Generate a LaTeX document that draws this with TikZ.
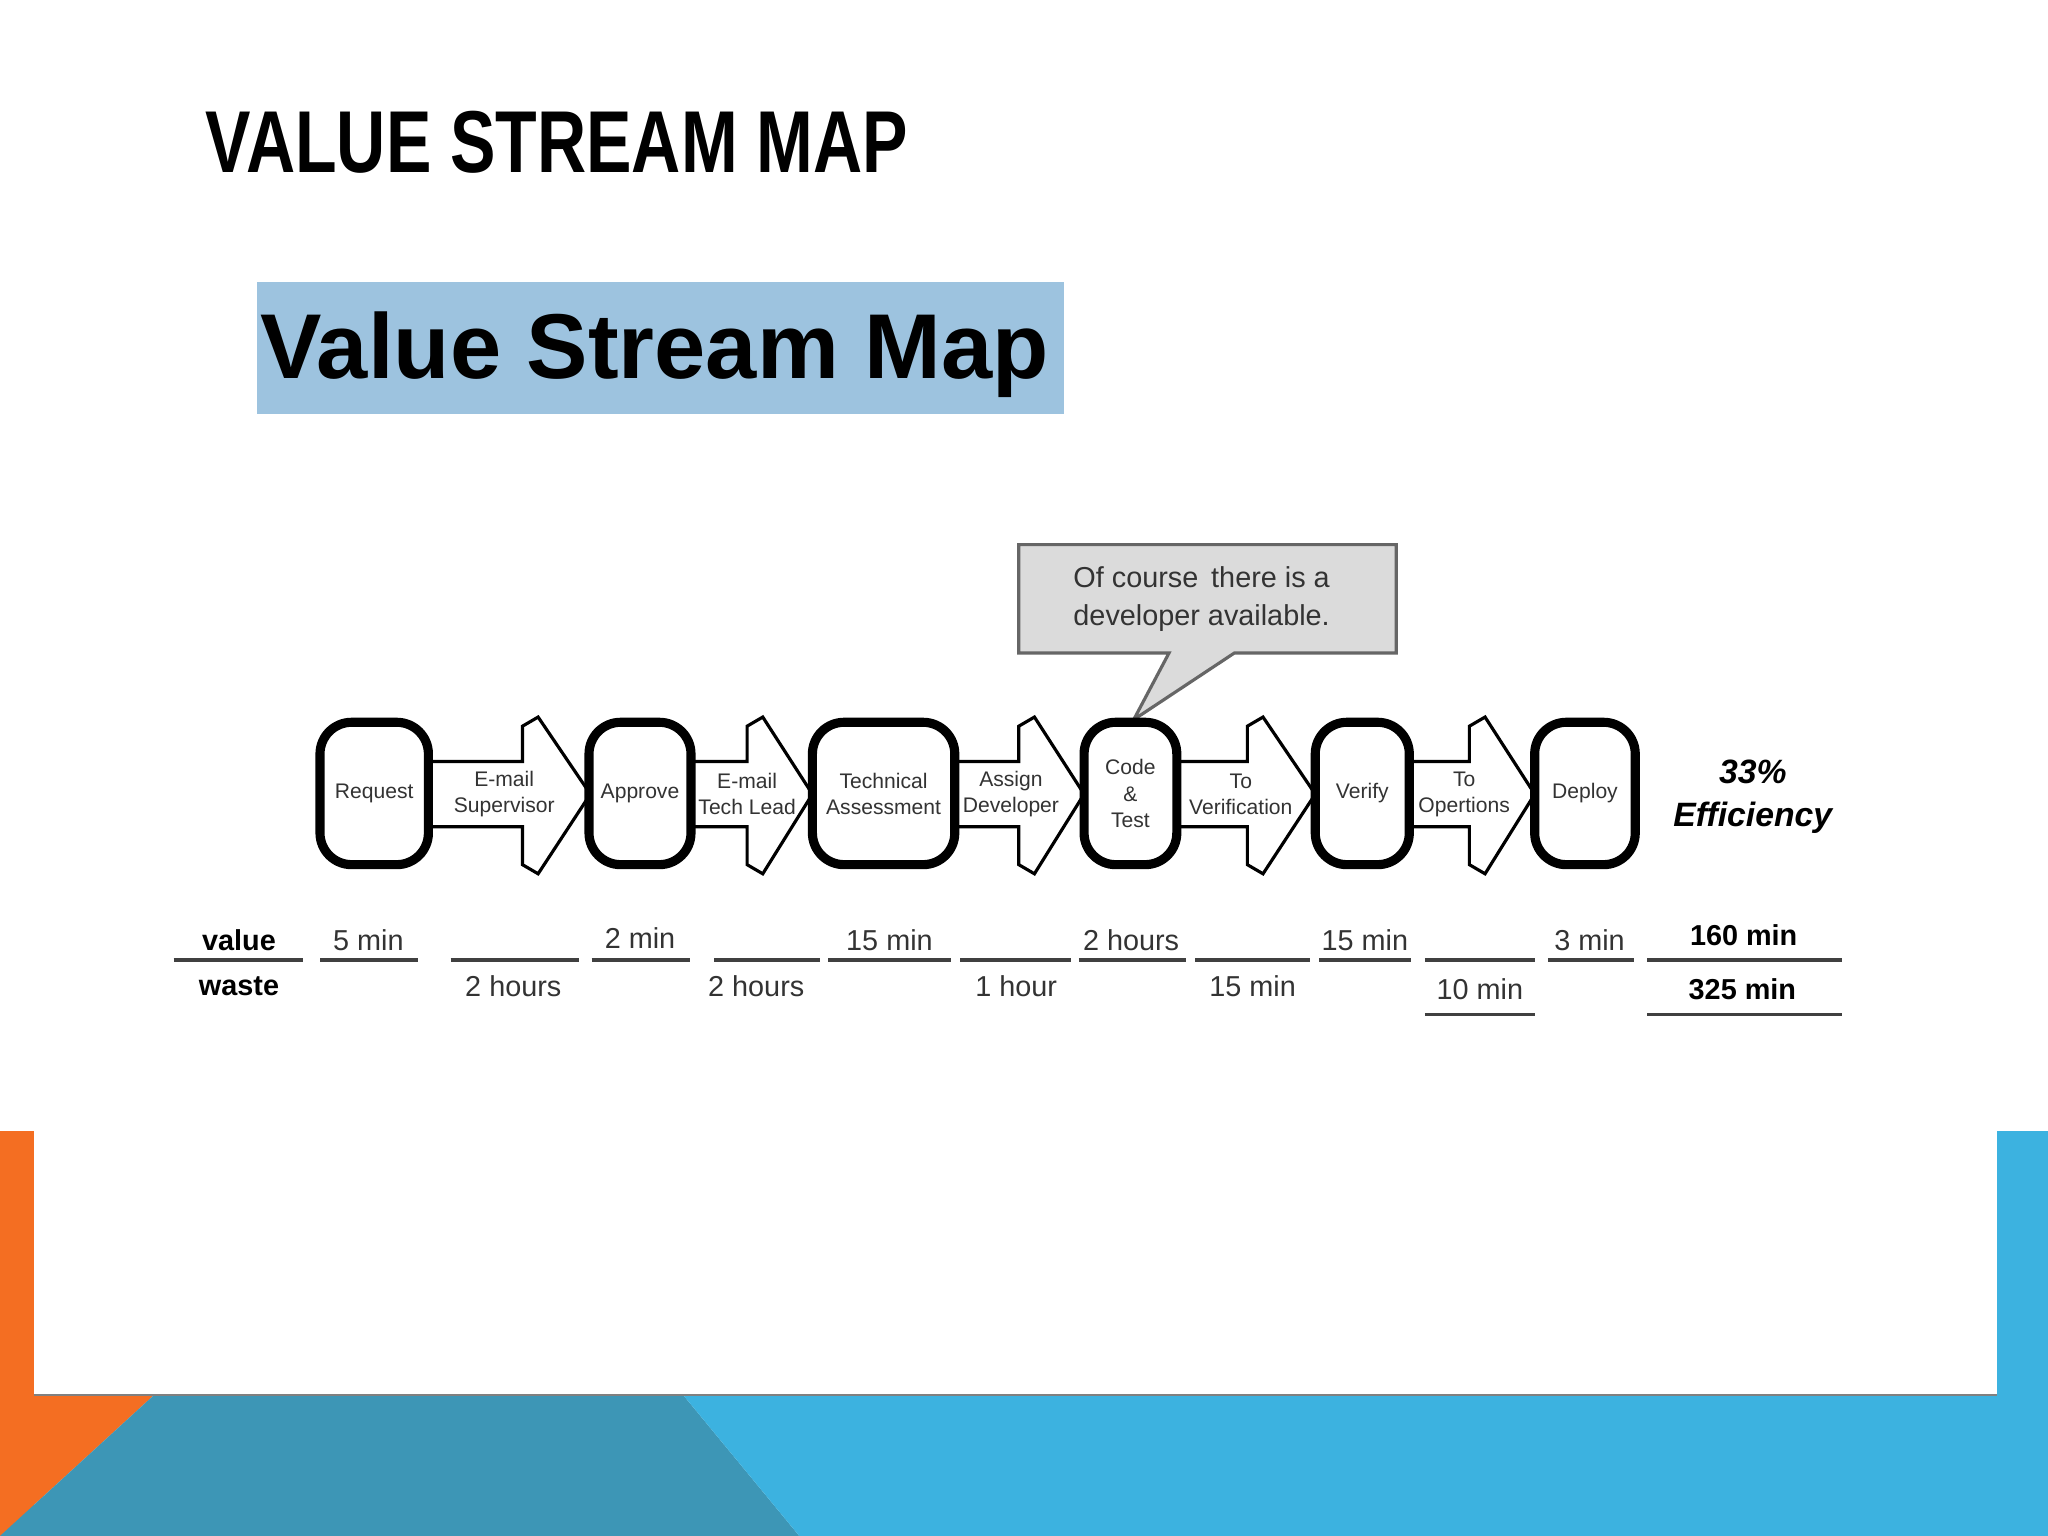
\documentclass[tikz,border=0pt]{standalone}
\usepackage{fontspec}
\setmainfont{Liberation Sans}
\definecolor{vsorange}{HTML}{F46E22}
\definecolor{vsteal}{HTML}{3D96B6}
\definecolor{vsblue}{HTML}{3CB2E0}
\definecolor{vsbox}{HTML}{9DC3DF}
\begin{document}
\begin{tikzpicture}[x=0.01306cm,y=-0.01306cm,
  proc/.style={draw,line width=2.6pt,rounded corners=9pt,fill=white},
  arr/.style={draw,line width=0.9pt,fill=white,line join=miter},
  small/.style={font=\fontsize{6.0}{7.4}\selectfont,align=center,text=black!80},
  num/.style={font=\fontsize{8.2}{9.5}\selectfont,text=black!80},
  bnum/.style={font=\bfseries\fontsize{8.2}{9.5}\selectfont},
  rule/.style={draw=black!75,line width=0.9pt}]
\useasboundingbox (0,0) rectangle (1568,1176);
\fill[white] (0,0) rectangle (1568,1176);
% bottom decoration
\fill[vsorange] (0,866) rectangle (26,1176);
\fill[vsorange] (0,1068) -- (118,1068) -- (0,1176) -- cycle;
\fill[vsteal] (118,1068) -- (523,1068) -- (612,1176) -- (0,1176) -- cycle;
\fill[vsblue] (523,1068) -- (1568,1068) -- (1568,1176) -- (612,1176) -- cycle;
\fill[vsblue] (1529,866) rectangle (1568,1068);
\draw[black!50,line width=0.8pt] (26,1068) -- (1529,1068);
% titles
\node[anchor=base west,inner sep=0] (title) at (157,132) {\scalebox{0.775}[1]{\bfseries\fontsize{25}{30}\selectfont VALUE STREAM MAP}};
\fill[vsbox] (197,216) rectangle (815,317);
\node[anchor=base west,inner sep=0] (sub) at (199,290) {\bfseries\fontsize{26.2}{30}\selectfont Value Stream Map};
% callout
\draw[black!60,fill=black!14,line width=0.9pt] (780,417) -- (1069,417) -- (1069,500) -- (945,500) -- (868,551) -- (895,500) -- (780,500) -- cycle;
\node[font=\fontsize{8.2}{10.8}\selectfont,align=center,text=black!80] (note) at (920,459) {Of course\, there is a\\developer available.};
% arrows
\foreach \a/\b/\h in {328/450/400, 529/620/572, 731/828/780, 901/1005/955, 1079/1173/1125}{
  \draw[arr] (\a-4,583) -- (\h,583) -- (\h,556) -- (\h+12,549) -- (\b+2,608) -- (\h+12,669) -- (\h,662) -- (\h,633) -- (\a-4,633);
}
% process boxes
\node[proc,minimum width=83*0.01306cm,minimum height=109*0.01306cm,small] (req) at (286.5,607.5) {Request};
\node[proc,minimum width=78*0.01306cm,minimum height=109*0.01306cm,small] (app) at (490,607.5) {Approve};
\node[proc,minimum width=109*0.01306cm,minimum height=109*0.01306cm,small] (tech) at (676.5,607.5) {Technical\\Assessment};
\node[proc,minimum width=71*0.01306cm,minimum height=109*0.01306cm,small] (code) at (865.5,607.5) {Code\\\&\\Test};
\node[proc,minimum width=72*0.01306cm,minimum height=109*0.01306cm,small] (ver) at (1043,607.5) {Verify};
\node[proc,minimum width=77*0.01306cm,minimum height=109*0.01306cm,small] (dep) at (1213.5,607.5) {Deploy};
% arrow labels
\node[small] (l1) at (386,608) {E-mail\\Supervisor};
\node[small] (l2) at (572,608) {E-mail\\Tech Lead};
\node[small] (l3) at (774,608) {Assign\\Developer};
\node[small] (l4) at (950,608) {To\\Verification};
\node[small] (l5) at (1121,608) {To\\Opertions};
\node[font=\bfseries\itshape\fontsize{9.6}{12.5}\selectfont,align=center] (eff) at (1342,610) {33\%\\Efficiency};
% rules
\foreach \a/\b in {133/232,245/320,345/443,453/528,547/628,634/728,735/820,826/908,915/1003,1010/1080,1091/1175,1185/1251,1261/1410}
  \draw[rule] (\a,735) -- (\b,735);
\draw[rule] (1091,777) -- (1175,777);
\draw[rule] (1261,777) -- (1410,777);
% labels
\node[bnum] (vl) at (183,720) {value};
\node[bnum] (wl) at (183,755) {waste};
\node[num] (v1) at (282,720) {5 min};
\node[num] (v2) at (490,718) {2 min};
\node[num] (v3) at (681,720) {15 min};
\node[num] (v4) at (866,720) {2 hours};
\node[num] (v5) at (1045,720) {15 min};
\node[num] (v6) at (1217,720) {3 min};
\node[bnum] (v7) at (1335,716) {160 min};
\node[num] (w1) at (393,755) {2 hours};
\node[num] (w2) at (579,755) {2 hours};
\node[num] (w3) at (778,755) {1 hour};
\node[num] (w4) at (959,755) {15 min};
\node[num] (w5) at (1133,757) {10 min};
\node[bnum] (w6) at (1334,757) {325 min};
\end{tikzpicture}
\end{document}
